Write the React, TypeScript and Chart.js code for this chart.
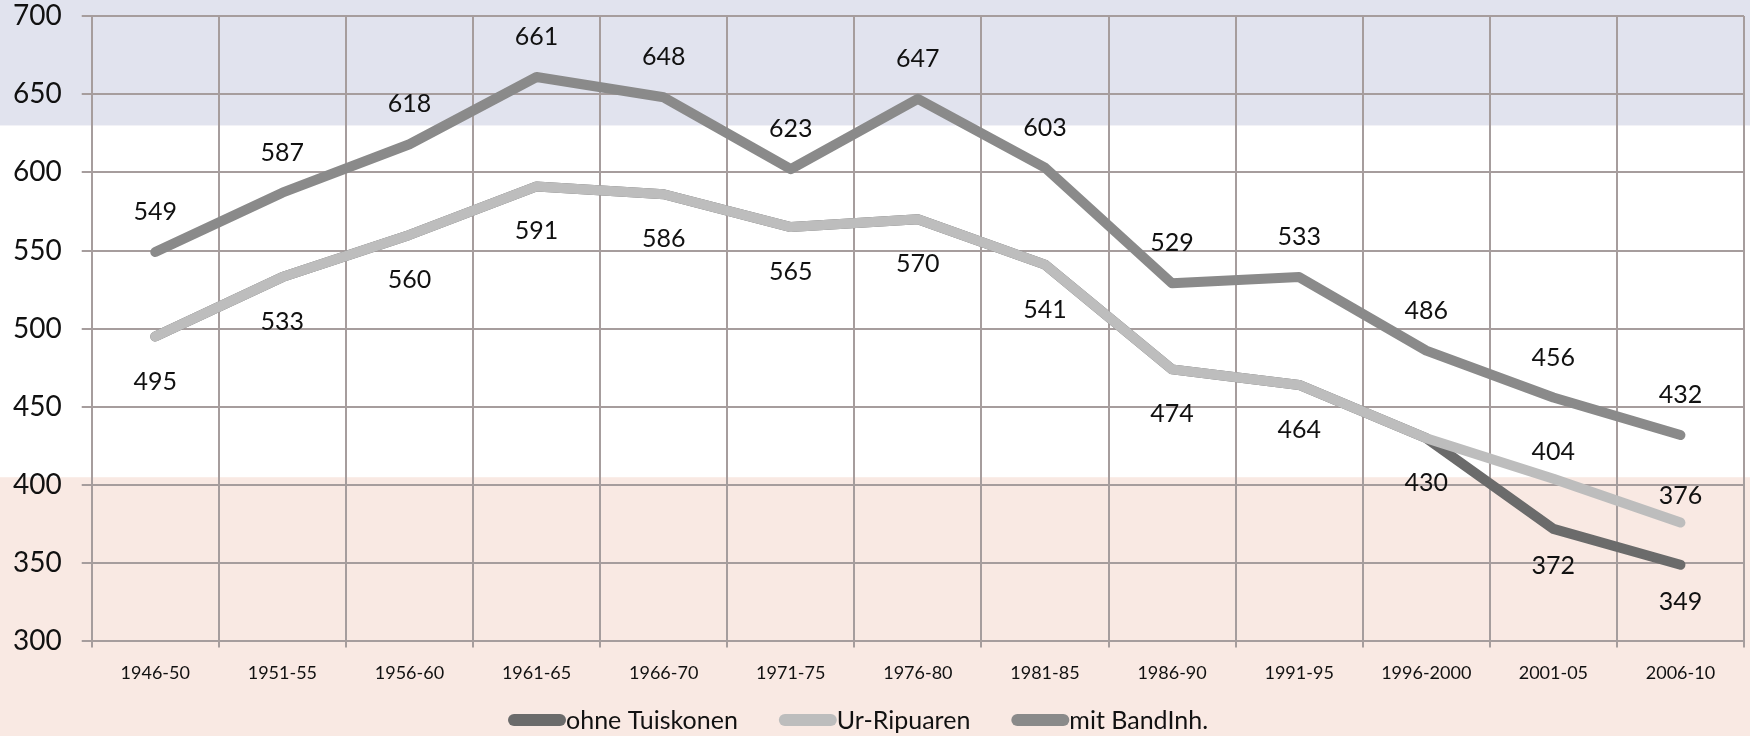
import React, { useEffect, useRef } from 'react';
import { Chart, registerables } from 'chart.js';

Chart.register(...registerables);

const categories = [
  '1946-50', '1951-55', '1956-60', '1961-65', '1966-70', '1971-75', '1976-80',
  '1981-85', '1986-90', '1991-95', '1996-2000', '2001-05', '2006-10',
];

const ohneTuiskonen = [495, 533, 560, 591, 586, 565, 570, 541, 474, 464, 430, 372, 349];
const urRipuaren = [495, 533, 560, 591, 586, 565, 570, 541, 474, 464, 430, 404, 376];
const mitBandInh = [549, 587, 618, 661, 648, 602, 647, 603, 529, 533, 486, 456, 432];

const ohneLabels = [null, null, null, null, null, null, null, null, null, null, null, '372', '349'];
const urLabels = ['495', '533', '560', '591', '586', '565', '570', '541', '474', '464', '430', '404', '376'];
const mitLabels = ['549', '587', '618', '661', '648', '623', '647', '603', '529', '533', '486', '456', '432'];

const urAbove = [false, false, false, false, false, false, false, false, false, false, false, true, true];

const yMin = 300;
const yMax = 700;
const yStep = 50;
const blueBandFrom = 630;
const pinkBandTo = 405;

const FONT = 'Lato, "Open Sans", sans-serif';
const GRID = '#a69d9d';

const bandPlugin = {
  id: 'bands',
  beforeDraw(chart: any) {
    const { ctx, width, height } = chart;
    const y = chart.scales.y;
    const yBlue = y.getPixelForValue(blueBandFrom);
    const yPink = y.getPixelForValue(pinkBandTo);
    ctx.save();
    ctx.fillStyle = '#ffffff';
    ctx.fillRect(0, 0, width, height);
    ctx.fillStyle = '#e1e3ee';
    ctx.fillRect(0, 0, width, yBlue);
    ctx.fillStyle = '#f9e9e3';
    ctx.fillRect(0, yPink, width, height - yPink);
    ctx.restore();
  },
};

const labelPlugin = {
  id: 'valueLabels',
  afterDatasetsDraw(chart: any) {
    const { ctx } = chart;
    ctx.save();
    ctx.font = `25px ${FONT}`;
    ctx.fillStyle = '#111111';
    ctx.textAlign = 'center';
    ctx.textBaseline = 'middle';
    chart.data.datasets.forEach((ds: any, di: number) => {
      const meta = chart.getDatasetMeta(di);
      const labels: (string | null)[] = ds.valueLabels;
      if (!labels) return;
      meta.data.forEach((pt: any, i: number) => {
        const t = labels[i];
        if (!t) return;
        let dy = ds.labelDy;
        if (ds.aboveFlags && ds.aboveFlags[i]) dy = -27;
        ctx.fillText(t, pt.x, pt.y + dy);
      });
    });
    ctx.restore();
  },
};

const legendPlugin = {
  id: 'customLegend',
  afterDraw(chart: any) {
    const { ctx } = chart;
    const items = chart.data.datasets;
    ctx.save();
    ctx.font = `25px ${FONT}`;
    ctx.textBaseline = 'middle';
    ctx.textAlign = 'left';
    let x = 508;
    const y = 720;
    items.forEach((ds: any) => {
      ctx.strokeStyle = ds.borderColor;
      ctx.lineWidth = 12;
      ctx.lineCap = 'round';
      ctx.beginPath();
      ctx.moveTo(x + 6, y);
      ctx.lineTo(x + 52, y);
      ctx.stroke();
      ctx.fillStyle = '#111111';
      ctx.fillText(ds.label, x + 58, y + 1);
      x += 58 + ctx.measureText(ds.label).width + 41;
    });
    ctx.restore();
  },
};

export default function App() {
  const ref = useRef<HTMLCanvasElement | null>(null);

  useEffect(() => {
    if (!ref.current) return;
    const chart = new Chart(ref.current, {
      type: 'line',
      data: {
        labels: categories,
        datasets: [
          {
            label: 'ohne Tuiskonen',
            data: ohneTuiskonen,
            borderColor: '#6b6b6b',
            backgroundColor: '#6b6b6b',
            borderWidth: 10,
            borderCapStyle: 'round',
            borderJoinStyle: 'round',
            pointRadius: 0,
            tension: 0,
            order: 3,
            valueLabels: ohneLabels,
            labelDy: 37,
          } as any,
          {
            label: 'Ur-Ripuaren',
            data: urRipuaren,
            borderColor: '#bdbdbd',
            backgroundColor: '#bdbdbd',
            borderWidth: 10,
            borderCapStyle: 'round',
            borderJoinStyle: 'round',
            pointRadius: 0,
            tension: 0,
            order: 2,
            valueLabels: urLabels,
            labelDy: 45,
            aboveFlags: urAbove,
          } as any,
          {
            label: 'mit BandInh.',
            data: mitBandInh,
            borderColor: '#8a8a8a',
            backgroundColor: '#8a8a8a',
            borderWidth: 10,
            borderCapStyle: 'round',
            borderJoinStyle: 'round',
            pointRadius: 0,
            tension: 0,
            order: 1,
            valueLabels: mitLabels,
            labelDy: -40,
          } as any,
        ],
      },
      options: {
        animation: false,
        responsive: false,
        maintainAspectRatio: false,
        layout: { padding: { left: -7, right: 6, top: 16, bottom: 37 } },
        plugins: {
          legend: { display: false },
          tooltip: { enabled: false },
        },
        scales: {
          x: {
            type: 'category',
            offset: true,
            grid: { color: GRID, lineWidth: 2, offset: true, tickLength: 6 },
            border: { color: GRID, width: 2 },
            ticks: {
              font: { family: FONT, size: 18 },
              color: '#111111',
              padding: 15,
              maxRotation: 0,
              autoSkip: false,
            },
          },
          y: {
            min: yMin,
            max: yMax,
            grid: { color: GRID, lineWidth: 2, tickLength: 10 },
            border: { color: GRID, width: 2 },
            ticks: {
              stepSize: yStep,
              font: { family: FONT, size: 28 },
              color: '#111111',
              padding: 20,
            },
            afterFit(scale: any) {
              scale.paddingTop = 0;
            },
          },
        },
      },
      plugins: [bandPlugin, labelPlugin, legendPlugin],
    });
    return () => chart.destroy();
  }, []);

  return (
    <div style={{ position: 'fixed', left: 0, top: 0, width: 1750, height: 736 }}>
      <canvas ref={ref} width={1750} height={736} style={{ width: 1750, height: 736, display: 'block' }} />
    </div>
  );
}
